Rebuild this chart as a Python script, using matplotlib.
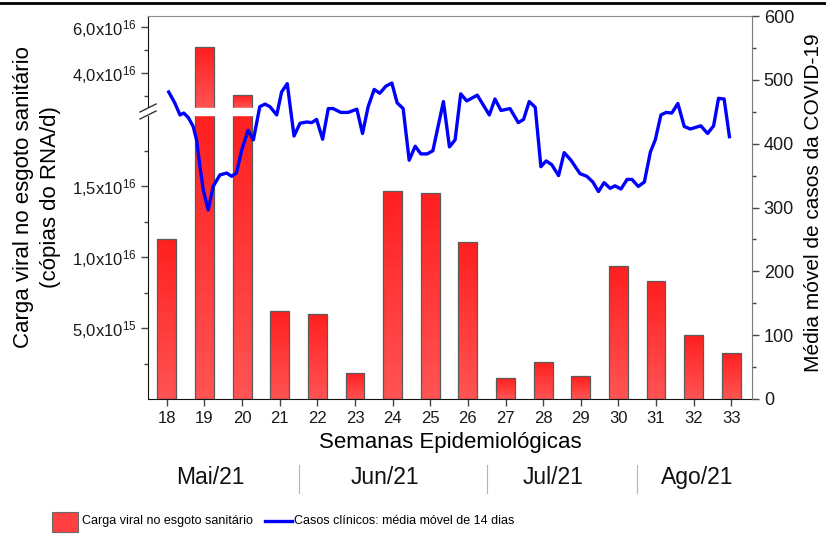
import matplotlib

matplotlib.use("Agg")
import matplotlib.pyplot as plt
import matplotlib.transforms as mtransforms
import numpy as np
from matplotlib.colors import LinearSegmentedColormap
from matplotlib.lines import Line2D
from matplotlib.patches import Polygon, Rectangle

plt.rcParams["font.family"] = ["Liberation Sans", "DejaVu Sans"]
plt.rcParams["mathtext.fontset"] = "custom"
plt.rcParams["mathtext.rm"] = "Liberation Sans"
plt.rcParams["mathtext.it"] = "Liberation Sans"

# Epidemiological weeks and weekly viral load in sewage (copies of RNA / day)
weeks = list(range(18, 34))
viral_load = [1.13e16, 5.13e16, 3.04e16, 6.2e15, 6.0e15, 1.83e15, 1.465e16, 1.45e16,
              1.106e16, 1.5e15, 2.63e15, 1.62e15, 9.37e15, 8.3e15, 4.5e15, 3.26e15]

# Clinical cases: 14-day moving average (x in week units)
case_x = [18.05, 18.21, 18.35, 18.45, 18.57, 18.70, 18.79, 18.88, 18.97, 19.10,
          19.23, 19.41, 19.59, 19.72, 19.85, 19.99, 20.16, 20.30, 20.47, 20.61,
          20.74, 20.92, 21.05, 21.20, 21.38, 21.54, 21.72, 21.85, 21.98, 22.14,
          22.29, 22.42, 22.62, 22.82, 23.05, 23.20, 23.35, 23.51, 23.66, 23.82,
          23.98, 24.12, 24.28, 24.44, 24.60, 24.75, 24.92, 25.07, 25.35, 25.51,
          25.66, 25.81, 25.97, 26.25, 26.57, 26.72, 26.88, 27.12, 27.34, 27.48,
          27.63, 27.79, 27.94, 28.08, 28.23, 28.41, 28.56, 28.74, 28.98, 29.16,
          29.32, 29.47, 29.62, 29.78, 29.91, 30.07, 30.23, 30.36, 30.53, 30.69,
          30.85, 30.98, 31.13, 31.27, 31.42, 31.58, 31.75, 31.91, 32.19, 32.37,
          32.53, 32.66, 32.81, 32.95]
case_y = [481, 464, 445, 448, 441, 427, 406, 364, 327, 296,
          333, 351, 354, 349, 354, 390, 421, 406, 458, 462,
          458, 445, 481, 494, 412, 432, 434, 433, 438, 407,
          455, 455, 449, 449, 454, 416, 458, 485, 479, 490,
          495, 464, 455, 374, 396, 384, 384, 389, 466, 395,
          406, 478, 467, 476, 445, 470, 452, 455, 433, 438,
          466, 457, 364, 373, 367, 350, 386, 374, 353, 349,
          340, 325, 339, 330, 334, 329, 344, 344, 333, 340,
          387, 406, 445, 449, 448, 463, 427, 423, 428, 416,
          428, 471, 470, 411]

left_ticks = [5e15, 1e16, 1.5e16, 4e16, 6e16]
left_labels = ["5,0x10$^{15}$", "1,0x10$^{16}$", "1,5x10$^{16}$",
               "4,0x10$^{16}$", "6,0x10$^{16}$"]
left_minor = [2.5e15, 7.5e15, 1.25e16, 1.75e16, 3e16, 5e16]
right_ticks = [0, 100, 200, 300, 400, 500, 600]
right_minor = [50, 150, 250, 350, 450, 550]

months = ["Mai/21", "Jun/21", "Jul/21", "Ago/21"]
month_centers = [19.15, 23.8, 28.25, 32.1]
month_bounds = [21.5, 26.5, 30.5]

# broken left axis
BRK_LO, BRK_HI, Y_TOP = 2.0e16, 2.48e16, 6.48e16


def fwd(v):
    v = np.asarray(v, dtype=float)
    lower = v / 5e15 * 71.0
    mid = 284.0 + (v - BRK_LO) / (BRK_HI - BRK_LO) * 7.0
    upper = 291.0 + (v - BRK_HI) / 1e16 * 23.0
    return np.where(v <= BRK_LO, lower, np.where(v <= BRK_HI, mid, upper))


def inv(f):
    f = np.asarray(f, dtype=float)
    lower = f / 71.0 * 5e15
    mid = BRK_LO + (f - 284.0) / 7.0 * (BRK_HI - BRK_LO)
    upper = BRK_HI + (f - 291.0) / 23.0 * 1e16
    return np.where(f <= 284.0, lower, np.where(f <= 291.0, mid, upper))


fig = plt.figure(figsize=(8.26, 5.36), dpi=100)
fig.patch.set_facecolor("white")
ax = fig.add_axes([0.1792, 0.2556, 0.7312, 0.7145])
ax.set_yscale("function", functions=(fwd, inv))
ax.set_ylim(0, Y_TOP)
ax.set_xlim(17.5, 33.55)

# bars with a vertical red gradient (per segment of the broken axis)
grad = LinearSegmentedColormap.from_list("redgrad", ["#ff5252", "#ff2020"])
bar_w = 0.5
for x, h in zip(weeks, viral_load):
    segments = [(0.0, min(h, BRK_LO))]
    if h > BRK_HI:
        segments.append((BRK_HI, h))
    for a, b in segments:
        yedges = inv(np.linspace(fwd(a), fwd(b), 25))
        cvals = np.linspace(0, 1, 24)[:, None]
        ax.pcolormesh([x - bar_w / 2, x + bar_w / 2], yedges, cvals, cmap=grad,
                      vmin=0, vmax=1, shading="flat", zorder=2)
ax.bar(weeks, viral_load, width=bar_w, facecolor="none", edgecolor="#5a5a5a",
       linewidth=0.9, zorder=3)
ax.axhspan(BRK_LO, BRK_HI, color="white", zorder=4)

# break marks on the left spine
ylo = float(fwd(BRK_LO) / fwd(Y_TOP))
yhi = float(fwd(BRK_HI) / fwd(Y_TOP))
dx, sy = 8 / 604, 4 / 383
ax.add_patch(Polygon([(-dx, ylo - sy), (dx, ylo + sy), (dx, yhi + sy), (-dx, yhi - sy)],
                     closed=True, transform=ax.transAxes, facecolor="white",
                     edgecolor="none", clip_on=False, zorder=6))
for yb in (ylo, yhi):
    ax.add_line(Line2D([-dx, dx], [yb - sy, yb + sy], transform=ax.transAxes,
                       color="#333333", lw=1.0, clip_on=False, zorder=7))

ax.set_xticks(weeks)
ax.set_xticklabels([str(w) for w in weeks], fontsize=12)
ax.set_yticks(left_ticks)
ax.set_yticklabels(left_labels, fontsize=12)
ax.set_yticks(left_minor, minor=True)
ax.xaxis.set_minor_locator(matplotlib.ticker.NullLocator())
ax.tick_params(axis="both", which="major", direction="out", length=5, width=1,
               color="#444444", labelcolor="#1a1a1a")
ax.tick_params(axis="y", which="minor", direction="out", length=3, width=1,
               color="#444444")

ax.spines["right"].set_visible(False)
ax.spines["top"].set_color("#8c8c8c")
ax.spines["left"].set_color("#111111")
ax.spines["bottom"].set_color("#111111")

ax.set_xlabel("Semanas Epidemiológicas", fontsize=16)
ax.xaxis.set_label_coords(0.5, -0.085)
ax.set_ylabel("Carga viral no esgoto sanitário\n(cópias do RNA/d)", fontsize=16,
              linespacing=1.35)
ax.yaxis.set_label_coords(-0.144, 0.527)

# clinical cases on the right axis
ax2 = ax.twinx()
ax2.plot(case_x, case_y, color="#0000ff", lw=2.4)
ax2.set_ylim(0, 600)
ax2.set_yticks(right_ticks)
ax2.set_yticklabels([str(t) for t in right_ticks], fontsize=13)
ax2.set_yticks(right_minor, minor=True)
ax2.tick_params(axis="y", which="major", direction="out", length=5, width=1,
                color="#444444", labelcolor="#1a1a1a")
ax2.tick_params(axis="y", which="minor", direction="out", length=3, width=1,
                color="#444444")
for side in ["left", "top", "bottom"]:
    ax2.spines[side].set_visible(False)
ax2.spines["right"].set_color("#7a7a7a")
ax2.set_ylabel("Média móvel de casos da COVID-19", fontsize=15)
ax2.yaxis.set_label_coords(1.086, 0.512)

# month row under the week axis
trans = mtransforms.blended_transform_factory(ax.transData, ax.transAxes)
for c, m in zip(month_centers, months):
    ax.text(c, -0.206, m, transform=trans, ha="center", va="center", fontsize=16.5,
            color="#111111")
for b in month_bounds:
    ax.add_line(Line2D([b, b], [-0.172, -0.245], transform=trans, color="#b4b4b4",
                       lw=0.8, clip_on=False))

# legend at the bottom
fig.add_artist(Rectangle((0.063, 0.0075), 0.0315, 0.0373, transform=fig.transFigure,
                         facecolor="#ff4040", edgecolor="#6a6a6a", lw=0.8))
fig.text(0.0993, 0.0275, "Carga viral no esgoto sanitário", ha="left", va="center",
         fontsize=9)
fig.add_artist(Line2D([0.3208, 0.3535], [0.0289, 0.0289], transform=fig.transFigure,
                      color="#0000ff", lw=2.4))
fig.text(0.356, 0.0275, "Casos clínicos: média móvel de 14 dias", ha="left",
         va="center", fontsize=9)

# rule across the top of the figure
fig.add_artist(Line2D([0, 1], [0.9945, 0.9945], transform=fig.transFigure,
                      color="black", lw=2.0))

fig.savefig("out.png", dpi=100)
